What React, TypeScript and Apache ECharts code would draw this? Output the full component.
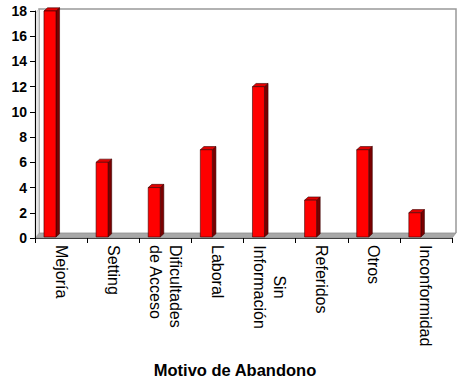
import React, { useEffect, useRef } from "react";
import * as echarts from "echarts";

const categories = [
  "Mejoría",
  "Setting",
  "Dificultades\nde Acceso",
  "Laboral",
  "Sin\nInformación",
  "Referidos",
  "Otros",
  "Inconformidad",
];
const values = [18, 6, 4, 7, 12, 3, 7, 2];
const yTicks = { min: 0, max: 18, interval: 2 };
const xTitle = "Motivo de Abandono";

const FONT = "'Liberation Sans', Arial, sans-serif";

export default function App() {
  const ref = useRef<HTMLDivElement>(null);
  useEffect(() => {
    if (!ref.current) return;
    const chart = echarts.init(ref.current, null, { renderer: "svg" });
    const DX = 4;
    const DY = -5;
    const option: any = {
      animation: false,
      backgroundColor: "#ffffff",
      title: {
        text: xTitle,
        left: 230,
        top: 356,
        textAlign: "center",
        textStyle: { fontFamily: FONT, fontSize: 16.5, fontWeight: "bold", color: "#000" },
      },
      grid: { left: 35, right: 12, top: 11, bottom: 150, containLabel: false, outerBoundsMode: "none" },
      xAxis: {
        type: "category",
        data: categories,
        boundaryGap: true,
        z: 10,
        axisLine: { show: true, lineStyle: { color: "#404040", width: 1 } },
        axisTick: { show: true, interval: 0, length: 5, alignWithLabel: false, lineStyle: { color: "#000" } },
        axisLabel: {
          interval: 0,
          rotate: -90,
          margin: 7,
          color: "#000",
          fontFamily: FONT,
          fontSize: 16,
          lineHeight: 20,
          formatter: (v: string) =>
            v === "Sin\nInformación" ? "{c|Sin}\n{c|Información}" : v,
          rich: {
            c: { width: 84, align: "center", fontFamily: FONT, fontSize: 16, lineHeight: 20, color: "#000" },
          },
        },
        splitLine: { show: false },
      },
      yAxis: {
        type: "value",
        min: yTicks.min,
        max: yTicks.max,
        interval: yTicks.interval,
        z: 10,
        axisLine: { show: true, lineStyle: { color: "#000", width: 1 } },
        axisTick: { show: true, length: 5, lineStyle: { color: "#000" } },
        axisLabel: { margin: 8, color: "#000", fontFamily: FONT, fontSize: 14, fontWeight: "bold" },
        splitLine: { show: false },
      },
      series: [
        {
          type: "custom",
          z: 1,
          silent: true,
          data: [[0, 0]],
          renderItem: (params: any) => {
            const cs = params.coordSys;
            const x = cs.x, y = cs.y, w = cs.width, h = cs.height;
            return {
              type: "group",
              children: [
                {
                  type: "polygon",
                  shape: { points: [[x, y + h], [x + w, y + h], [x + w + DX, y + h + DY], [x + DX, y + h + DY]] },
                  style: { fill: "#a8a8a8", stroke: "#909090", lineWidth: 0.8 },
                },
                {
                  type: "polyline",
                  shape: { points: [[x + DX, y + h + DY], [x + DX, y - 2], [x + w + DX, y - 2], [x + w + DX, y + h + DY]] },
                  style: { fill: "none", stroke: "#999999", lineWidth: 1.5 },
                },
                {
                  type: "polygon",
                  shape: { points: [[x, y + h], [x + DX, y + h + DY], [x + DX, y - 2], [x, y + 3]] },
                  style: { fill: "#e6e6e6", stroke: "#b0b0b0", lineWidth: 0.6 },
                },
              ],
            };
          },
        },
        {
          type: "custom",
          z: 5,
          data: values.map((v, i) => [i, v]),
          encode: { x: 0, y: 1 },
          renderItem: (params: any, api: any) => {
            const idx = api.value(0);
            const val = api.value(1);
            const top = api.coord([idx, val]);
            const bot = api.coord([idx, 0]);
            const cw = api.size([1, 0])[0];
            const left = top[0] - cw / 2 + cw * 0.172;
            const bw = cw * 0.23;
            const dx = 3.6;
            const dy = -3.2;
            const yt = top[1];
            const yb = bot[1] - 1;
            const stroke = "#3a0000";
            return {
              type: "group",
              children: [
                {
                  type: "polygon",
                  shape: { points: [[left + bw, yb], [left + bw + dx, yb + dy], [left + bw + dx, yt + dy], [left + bw, yt]] },
                  style: { fill: "#7a0000", stroke, lineWidth: 0.6 },
                },
                {
                  type: "polygon",
                  shape: { points: [[left, yt], [left + dx, yt + dy], [left + bw + dx, yt + dy], [left + bw, yt]] },
                  style: { fill: "#e00000", stroke, lineWidth: 0.6 },
                },
                {
                  type: "rect",
                  shape: { x: left, y: yt, width: bw, height: yb - yt },
                  style: { fill: "#ff0000", stroke, lineWidth: 0.6 },
                },
              ],
            };
          },
        },
      ],
    };
    chart.setOption(option);
    return () => chart.dispose();
  }, []);
  return (
    <div
      ref={ref}
      style={{ position: "fixed", left: 0, top: 0, width: 464, height: 388, background: "#fff" }}
    />
  );
}
